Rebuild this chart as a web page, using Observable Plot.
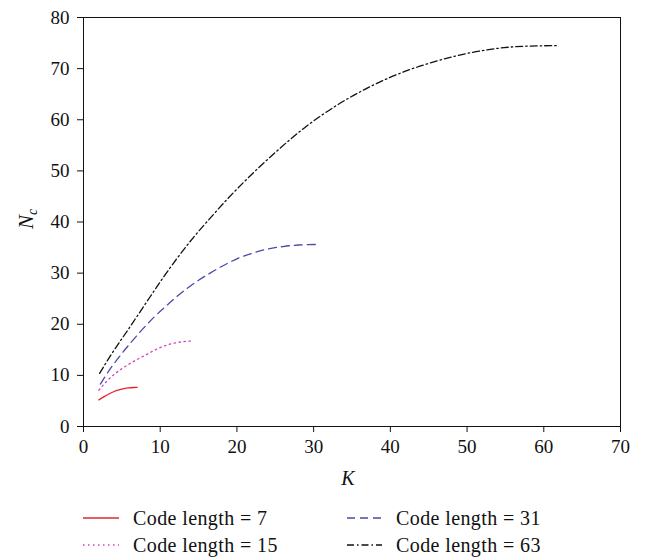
<!DOCTYPE html>
<html>
<head>
<meta charset="utf-8">
<script src="https://cdn.jsdelivr.net/npm/d3@7"></script>
<script src="https://cdn.jsdelivr.net/npm/@observablehq/plot@0.6"></script>
<style>
  html, body { margin: 0; padding: 0; background: white; }
  #wrap { position: relative; width: 647px; height: 558px; font-family: "Liberation Serif", serif; }
  .leg { position: absolute; font-family: "Liberation Serif", serif; font-size: 20px; letter-spacing: 0.4px; line-height: 1; white-space: nowrap; color: #111; }
  .sw { position: absolute; }
</style>
</head>
<body>
<div id="wrap"></div>
<script>
// ---- data ----
const xTicks = [0, 10, 20, 30, 40, 50, 60, 70];
const yTicks = [0, 10, 20, 30, 40, 50, 60, 70, 80];

const seriesNames = ["Code length = 7", "Code length = 15", "Code length = 31", "Code length = 63"];

const K7 = [2, 2.7, 3.3, 4.0, 4.6, 5.3, 5.9, 6.5, 7.0];
const N7 = [5.2, 5.85, 6.35, 6.85, 7.15, 7.42, 7.56, 7.63, 7.65];

const K15 = [2, 3, 4, 5, 6.5, 8, 9.5, 11, 12.5, 13.95];
const N15 = [7.1, 8.8, 10.2, 11.3, 12.7, 13.9, 15.1, 16.0, 16.5, 16.7];

const K31 = [2.2, 3.5, 4.8, 6.0, 7.5, 9.2, 10.5, 12.0, 13.5, 15.0, 16.5, 18.0, 20.0, 22.0, 24.0, 26.0, 28.0, 30.4];
const N31 = [8.3, 11.3, 13.9, 16.1, 18.7, 21.4, 23.2, 25.2, 27.0, 28.6, 30.0, 31.3, 32.8, 33.9, 34.7, 35.2, 35.5, 35.6];

const K63 = [2.1, 3.5, 5.7, 7.9, 10.0, 12.2, 14.4, 16.6, 18.7, 20.9, 24.7, 28.7, 33.1, 37.4, 41.8, 46.1, 50.4, 54.8, 59.1, 61.9];
const N63 = [10.4, 13.8, 18.7, 23.6, 28.3, 32.9, 37.1, 40.9, 44.4, 47.8, 53.2, 58.3, 62.9, 66.5, 69.4, 71.5, 73.1, 74.1, 74.45, 74.5];

const colors = ["#e2262a", "#cf44be", "#4a4aaa", "#111111"];
const dashes = [null, "1.5,3.5", "8,5", "7,3,1.5,3"];

const toRows = (Ks, Ns, s) => Ks.map((k, i) => ({K: k, N: Ns[i], series: s}));
const sets = [
  toRows(K7, N7, seriesNames[0]),
  toRows(K15, N15, seriesNames[1]),
  toRows(K31, N31, seriesNames[2]),
  toRows(K63, N63, seriesNames[3])
];

const plot = Plot.plot({
  width: 647,
  height: 495,
  marginLeft: 83,
  marginRight: 27,
  marginTop: 17,
  marginBottom: 69,
  style: {fontFamily: "'Liberation Serif', serif", fontSize: "19px", background: "white", color: "#111"},
  x: {domain: [0, 70]},
  y: {domain: [0, 80]},
  marks: [
    Plot.frame({stroke: "#111", strokeWidth: 1}),
    Plot.axisX({ticks: xTicks, tickSize: 6, tickPadding: 7, label: null, fontSize: 19}),
    Plot.axisY({ticks: yTicks, tickSize: 6, tickPadding: 8, label: null, fontSize: 19}),
    ...sets.map((d, i) => Plot.line(d, {
      x: "K", y: "N", curve: "monotone-x",
      stroke: colors[i], strokeWidth: 1.3,
      strokeDasharray: dashes[i] || undefined
    })),
    Plot.text(["K"], {frameAnchor: "bottom", dy: 52, dx: -4, lineAnchor: "middle", fontStyle: "italic", fontSize: 20})
  ]
});

const wrap = document.getElementById("wrap");
wrap.appendChild(plot);

// y axis label N_c (with subscript)
const svg = d3.select(plot);
const yl = svg.append("text")
  .attr("transform", "translate(33,219) rotate(-90)")
  .attr("text-anchor", "middle")
  .attr("font-family", "'Liberation Serif', serif")
  .attr("font-size", 21)
  .attr("font-style", "italic")
  .attr("fill", "#111");
yl.append("tspan").text("N");
yl.append("tspan").attr("font-size", 14).attr("dy", 4).text("c");

// legend below the plot
const legendPos = [
  {sx: 83, sw: 36, tx: 133, cy: 518},
  {sx: 83, sw: 36, tx: 133, cy: 545},
  {sx: 347, sw: 35, tx: 396, cy: 518},
  {sx: 347, sw: 35, tx: 396, cy: 545}
];
seriesNames.forEach((name, i) => {
  const p = legendPos[i];
  const s = d3.create("svg").attr("class", "sw")
    .attr("width", p.sw).attr("height", 6)
    .style("left", p.sx + "px").style("top", (p.cy - 3) + "px");
  s.append("line").attr("x1", 0).attr("x2", p.sw).attr("y1", 3).attr("y2", 3)
    .attr("stroke", colors[i]).attr("stroke-width", 1.3)
    .attr("stroke-dasharray", dashes[i]);
  wrap.appendChild(s.node());
  const t = document.createElement("div");
  t.className = "leg";
  t.textContent = name;
  t.style.left = p.tx + "px";
  t.style.top = (p.cy - 10) + "px";
  wrap.appendChild(t);
});
</script>
</body>
</html>
